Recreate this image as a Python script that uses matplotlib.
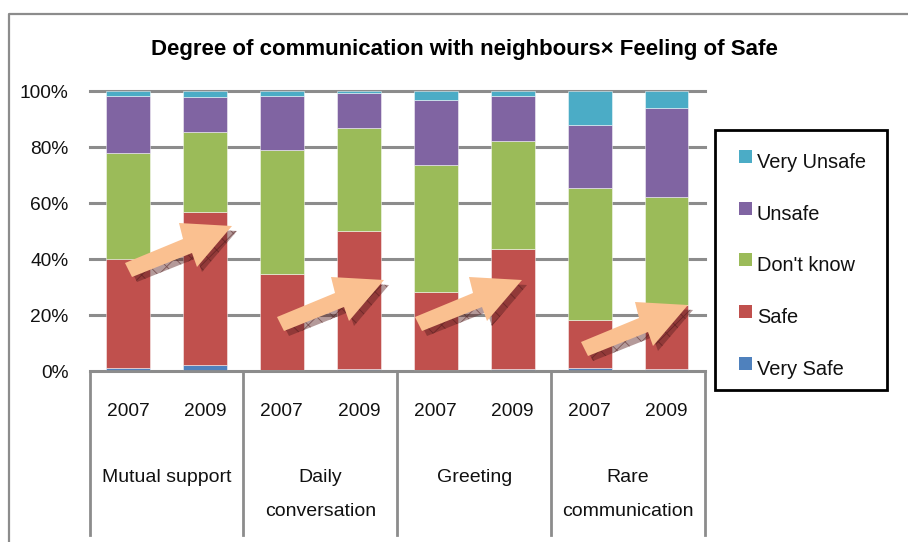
import matplotlib
matplotlib.use("Agg")
import numpy as np
import matplotlib.pyplot as plt
from matplotlib.patches import Polygon, Rectangle
from matplotlib.lines import Line2D

W, H = 908, 542

years = ["2007", "2009"] * 4
groups = ["Mutual support", "Daily\nconversation", "Greeting", "Rare\ncommunication"]
series = ["Very Safe", "Safe", "Don't know", "Unsafe", "Very Unsafe"]
colors = ["#4f81bd", "#c0504d", "#9bbb59", "#8064a2", "#4bacc6"]

very_safe = [1.1, 2.3, 0.4, 0.8, 0.5, 0.8, 1.1, 0.8]
safe = [38.8, 54.5, 34.2, 49.2, 27.7, 42.8, 17.0, 22.8]
dont_know = [38.1, 28.5, 44.4, 36.8, 45.5, 38.4, 47.4, 38.4]
unsafe = [20.3, 12.4, 19.3, 12.4, 23.2, 16.3, 22.2, 32.0]
very_unsafe = [1.7, 2.3, 1.7, 0.8, 3.1, 1.7, 12.3, 6.0]

# arrow outline in pixels, relative to the tail corner
arrow_shape = [(0, 0), (7, 14), (67, -10), (72, 4), (107, -37), (54, -40), (58, -24)]
arrow_tails = [(125, 263), (277, 317), (415, 317), (581, 342)]


def px(x, y):
    return x / W, 1 - y / H


plt.rcParams["font.family"] = ["Liberation Sans", "DejaVu Sans"]
plt.rcParams["hatch.linewidth"] = 0.6

fig = plt.figure(figsize=(W / 100, H / 100), dpi=100)

# outer chart frame, open on the right and at the bottom
fig.add_artist(Line2D([9 / W, 9 / W, 1], [0, 1 - 14 / H, 1 - 14 / H],
                      color="#8c8c8c", lw=1.6))

x0, x1, ytop, ybot = 89.5, 705, 91, 371
ax = fig.add_axes([x0 / W, 1 - ybot / H, (x1 - x0) / W, (ybot - ytop) / H])
ax.set_xlim(0, 8)
ax.set_ylim(0, 100)
for s in ax.spines.values():
    s.set_visible(False)
ax.set_axisbelow(True)
ax.yaxis.grid(True, color="#8c8c8c", lw=2.2, clip_on=False)
ax.set_yticks(np.arange(0, 101, 20))
ax.set_yticklabels([f"{v}%" for v in range(0, 101, 20)], fontsize=13.8, color="#111111")
ax.tick_params(axis="y", length=0, pad=15)
ax.set_xticks([])

pos = np.arange(8) + 0.5
bottom = np.zeros(8)
for name, vals, c in zip(series, [very_safe, safe, dont_know, unsafe, very_unsafe], colors):
    ax.bar(pos, vals, 0.57, bottom=bottom, color=c, edgecolor=(1, 1, 1, 0.55), lw=0.6, label=name)
    bottom = bottom + np.array(vals)

ax.axhline(0, color="#8c8c8c", lw=2, clip_on=False, zorder=4)
for i in range(5):
    sx = x0 + i * (x1 - x0) / 4
    fig.add_artist(Line2D([sx / W, sx / W], [1 - ybot / H, 1 - 535 / H], color="#8c8c8c", lw=2))

for p, y in zip(pos, years):
    ax.annotate(y, (p, 0), xytext=(0, -40 * 0.72), xycoords="data", textcoords="offset points",
                ha="center", va="center", fontsize=13.8, color="#111111")
for i, g in enumerate(groups):
    ax.annotate(g, (2 * i + 1, 0), xytext=(0, -107 * 0.72 if "\n" not in g else -123.5 * 0.72),
                xycoords="data", textcoords="offset points",
                ha="center", va="center", fontsize=14, color="#111111", linespacing=2.25)

fig.text(464 / W, 1 - 49 / H, "Degree of communication with neighbours× Feeling of Safe",
         ha="center", va="center", fontsize=16, color="black", fontweight="bold")

# arrows with their hatched shadows
for tx, ty in arrow_tails:
    shadow = [px(tx + a + 5, ty + b + 5) for a, b in arrow_shape]
    fig.add_artist(Polygon(shadow, closed=True, transform=fig.transFigure,
                           facecolor=(0.35, 0.12, 0.12, 0.45), edgecolor=(0.3, 0.1, 0.1, 0.55),
                           hatch="xx", lw=0, zorder=5))
    body = [px(tx + a, ty + b) for a, b in arrow_shape]
    fig.add_artist(Polygon(body, closed=True, transform=fig.transFigure,
                           facecolor="#fac090", edgecolor="none", zorder=6))

# legend box drawn by hand to match the spacing
fig.add_artist(Rectangle(px(715, 390), 172 / W, 260 / H, transform=fig.transFigure,
                         facecolor="white", edgecolor="black", lw=2, zorder=3))
leg_y = [368, 316, 264, 213, 161]
for name, c, y in zip(series, colors, leg_y):
    fig.add_artist(Rectangle(px(739, y + 2), 13 / W, 13 / H, transform=fig.transFigure,
                             facecolor=c, edgecolor="none", zorder=4))
    fig.text(757 / W, 1 - (y + 1.5) / H, name, ha="left", va="center", fontsize=14.4,
             color="#111111", zorder=4)

fig.savefig("out.png", dpi=100)
